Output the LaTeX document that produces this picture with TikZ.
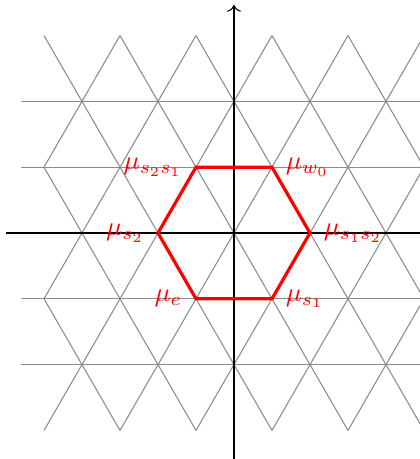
\documentclass[tikz,border=0pt]{standalone}
\usepackage{amsmath}
\usetikzlibrary{arrows.meta}
\definecolor{latt}{HTML}{8C8C8C}
\tikzset{
  lattline/.style={draw=latt, line width=0.4pt},
  axis/.style={->, draw=black, line width=0.4pt},
  hexline/.style={draw=red, line width=1.2pt, line join=miter},
  wlabel/.style={text=red, inner sep=0pt}
}
\begin{document}
\begin{tikzpicture}
  \pgfmathsetmacro{\h}{sqrt(3)/2}
  \useasboundingbox (-3.079,-2.974) rectangle (2.447,3.066);
  % lattice
  \foreach \k in {-2,-1,1,2}
    \draw[lattline] (-2.8,\k*\h) -- (2.8,\k*\h);
  \begin{scope}
    \clip (-2.5,-3*\h) rectangle (2.5,3*\h);
    \foreach \c in {-4,...,4} {
      \draw[lattline] (\c-1.5,-3*\h) -- (\c+1.5,3*\h);
      \draw[lattline] (\c+1.5,-3*\h) -- (\c-1.5,3*\h);
    }
  \end{scope}
  % axes
  \draw[axis] (-3,0) -- (3,0);
  \draw[axis] (0,-3) -- (0,3);
  % hexagon
  \coordinate (e) at (-0.5,-\h);
  \coordinate (s1) at (0.5,-\h);
  \coordinate (s1s2) at (1,0);
  \coordinate (w0) at (0.5,\h);
  \coordinate (s2s1) at (-0.5,\h);
  \coordinate (s2) at (-1,0);
  \draw[hexline] (e) -- (s1) -- (s1s2) -- (w0) -- (s2s1) -- (s2) -- cycle;
  \node[wlabel, left=5pt] (le) at (e) {$\mu_e$};
  \node[wlabel, right=5pt] (ls1) at (s1) {$\mu_{s_1}$};
  \node[wlabel, right=5pt] (ls1s2) at (s1s2) {$\mu_{s_1s_2}$};
  \node[wlabel, right=5pt] (lw0) at (w0) {$\mu_{w_0}$};
  \node[wlabel, left=5pt] (ls2s1) at (s2s1) {$\mu_{s_2s_1}$};
  \node[wlabel, left=5pt] (ls2) at (s2) {$\mu_{s_2}$};
\end{tikzpicture}
\end{document}
